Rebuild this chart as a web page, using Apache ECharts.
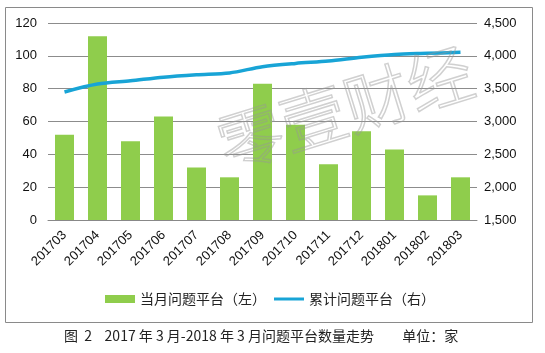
<!DOCTYPE html>
<html>
<head>
<meta charset="utf-8">
<script src="https://cdn.jsdelivr.net/npm/echarts@6/dist/echarts.min.js"></script>
<style>
  html, body { margin: 0; padding: 0; background: #fff; }
  #chart { width: 545px; height: 353px; }
</style>
</head>
<body>
<div id="chart"></div>
<script>
// 月份
var months = ['201703', '201704', '201705', '201706', '201707', '201708', '201709',
  '201710', '201711', '201712', '201801', '201802', '201803'];
// 当月问题平台（左轴）
var monthly = [52, 112, 48, 63, 32, 26, 83, 58, 34, 54, 43, 15, 26];
// 累计问题平台（右轴）
var cumulative = [3450, 3570, 3620, 3675, 3712, 3740, 3835, 3885, 3920, 3978, 4022, 4038, 4054];

var CN = '"Noto Sans CJK SC", sans-serif';
var NUM = '"Liberation Sans", Arial, sans-serif';

var myChart = echarts.init(document.getElementById('chart'), null, {renderer: 'canvas'});

var option = {
  backgroundColor: '#ffffff',
  animation: false,
  grid: {
    left: 48,
    right: 68,
    top: 23,
    bottom: 133,
    containLabel: false
  },
  graphic: [
    {
      type: 'rect',
      shape: {x: 5.5, y: 7.5, width: 527, height: 315},
      style: {fill: 'none', stroke: '#8a8a8a', lineWidth: 1},
      z: -10
    },
    {
      // 水印
      type: 'text',
      x: 345, y: 108,
      rotation: 0.3,
      style: {
        text: '零壹财经',
        font: '300 66px ' + CN,
        fill: 'rgba(255,255,255,0)',
        stroke: 'rgba(150,150,150,0.45)',
        lineWidth: 1.5,
        textAlign: 'center',
        textVerticalAlign: 'middle'
      },
      z: 100
    },
    {
      type: 'text',
      left: 64,
      top: 329,
      style: {
        text: '图  2    2017 年 3 月-2018 年 3 月问题平台数量走势         单位：家',
        font: '14px ' + CN,
        fill: '#222'
      }
    }
  ],
  legend: {
    bottom: 42,
    left: 100,
    itemWidth: 30,
    itemHeight: 8,
    itemGap: 8,
    textStyle: {fontFamily: CN, fontSize: 14, color: '#222'},
    data: [
      {name: '当月问题平台（左）', icon: 'rect'},
      {name: '累计问题平台（右）', icon: 'path://M0 0H30V3H0Z'}
    ]
  },
  xAxis: {
    type: 'category',
    data: months,
    axisTick: {show: false},
    axisLine: {lineStyle: {color: '#888', width: 1}},
    axisLabel: {
      interval: 0,
      rotate: 45,
      margin: 13,
      fontFamily: NUM,
      fontSize: 13,
      color: '#111'
    }
  },
  yAxis: [
    {
      type: 'value',
      min: 0,
      max: 120,
      interval: 20,
      axisLine: {show: false},
      axisTick: {show: false},
      axisLabel: {margin: 11, fontFamily: NUM, fontSize: 13, color: '#111'},
      splitLine: {lineStyle: {color: '#8c8c8c', width: 1}}
    },
    {
      type: 'value',
      min: 1500,
      max: 4500,
      interval: 500,
      axisLine: {show: false},
      axisTick: {show: false},
      splitLine: {show: false},
      axisLabel: {
        margin: 7,
        fontFamily: NUM,
        fontSize: 13,
        color: '#111',
        formatter: function (v) {
          return String(v).replace(/\B(?=(\d{3})+(?!\d))/g, ',');
        }
      }
    }
  ],
  series: [
    {
      name: '当月问题平台（左）',
      type: 'bar',
      yAxisIndex: 0,
      barWidth: 19,
      itemStyle: {color: '#8fcd4c'},
      data: monthly
    },
    {
      name: '累计问题平台（右）',
      type: 'line',
      yAxisIndex: 1,
      smooth: 0.3,
      showSymbol: false,
      symbol: 'none',
      lineStyle: {color: '#18a4d6', width: 3.5},
      itemStyle: {color: '#18a4d6'},
      data: cumulative
    }
  ]
};

myChart.setOption(option, true);
</script>
</body>
</html>
